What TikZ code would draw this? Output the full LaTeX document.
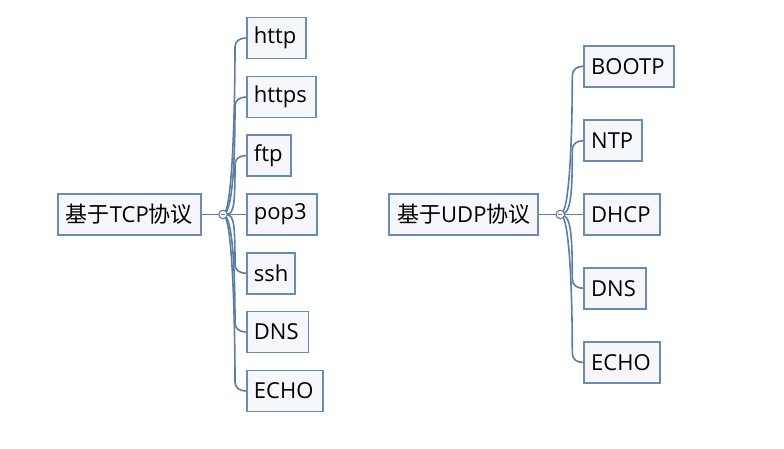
\documentclass[tikz,border=0pt]{standalone}
\usepackage{fontspec}
\setmainfont{Open Sans}
\newfontfamily\cjk{Noto Sans CJK SC}
\usetikzlibrary{calc}
\definecolor{bordercol}{HTML}{6A8BB6}
\definecolor{boxfill}{HTML}{F5F7FA}
\definecolor{linkcol}{HTML}{5A7EA9}
\begin{document}
\begin{tikzpicture}[x=1pt,y=-1pt,
  box/.style={draw=bordercol, fill=boxfill, line width=1.8pt, anchor=west,
    minimum height=41pt, inner ysep=0pt, inner xsep=7pt, align=left,
    font=\fontsize{22}{26}\selectfont},
  link/.style={draw=linkcol, line width=1.6pt},
  toggle/.style={circle, draw=linkcol, fill=white, line width=1.1pt,
    minimum size=8.5pt, inner sep=0pt}]
\useasboundingbox (0,0) rectangle (784,448);

% ---------- TCP ----------
\node[box, text width=127pt, inner xsep=8pt] (t0) at (57,214.5) {{\cjk 基于}TCP{\cjk 协议}};
\node[box, text width=45pt] (t1) at (246,38) {http};
\node[box, text width=55pt] (t2) at (246,97) {https};
\node[box, text width=30pt] (t3) at (246,155.5) {ftp};
\node[box, text width=56pt] (t4) at (246,214.5) {pop3};
\node[box, text width=34pt] (t5) at (246,273.3) {ssh};
\node[box, text width=47.5pt] (t6) at (246,332) {DNS};
\node[box, text width=62pt] (t7) at (246,391) {ECHO};
\coordinate (tc) at (223,214.5);

\draw[link] (t0.east) -- (tc);
\draw[link] (tc) -- (t4.west);
\foreach \ch/\s in {t1/-1, t2/-1, t3/-1, t5/1, t6/1, t7/1} {
  \draw[link] (tc) .. controls +(10,0) and +(0,{-\s*50}) ..
    ($(\ch.west)+(-11,{-\s*9})$) .. controls +(0,{\s*6}) and +(-6,0) .. (\ch.west);
}
\node[toggle] (tt) at (tc) {};
\draw[linkcol, line width=0.9pt] ($(tt.center)+(-2,0)$) -- ($(tt.center)+(2,0)$);

% ---------- UDP ----------
\node[box, text width=132.7pt, inner xsep=8pt] (u0) at (388.3,214.5) {{\cjk 基于}UDP{\cjk 协议}};
\node[box, text width=75.4pt] (u1) at (583.3,66.3) {BOOTP};
\node[box, text width=44pt] (u2) at (583.3,140.7) {NTP};
\node[box, text width=61.7pt] (u3) at (583.3,214.5) {DHCP};
\node[box, text width=47.4pt] (u4) at (583.3,288.3) {DNS};
\node[box, text width=61.7pt] (u5) at (583.3,362.5) {ECHO};
\coordinate (uc) at (560.3,214.5);

\draw[link] (u0.east) -- (uc);
\draw[link] (uc) -- (u3.west);
\foreach \ch/\s in {u1/-1, u2/-1, u4/1, u5/1} {
  \draw[link] (uc) .. controls +(10,0) and +(0,{-\s*50}) ..
    ($(\ch.west)+(-11,{-\s*9})$) .. controls +(0,{\s*6}) and +(-6,0) .. (\ch.west);
}
\node[toggle] (ut) at (uc) {};
\draw[linkcol, line width=0.9pt] ($(ut.center)+(-2,0)$) -- ($(ut.center)+(2,0)$);
\end{tikzpicture}
\end{document}
